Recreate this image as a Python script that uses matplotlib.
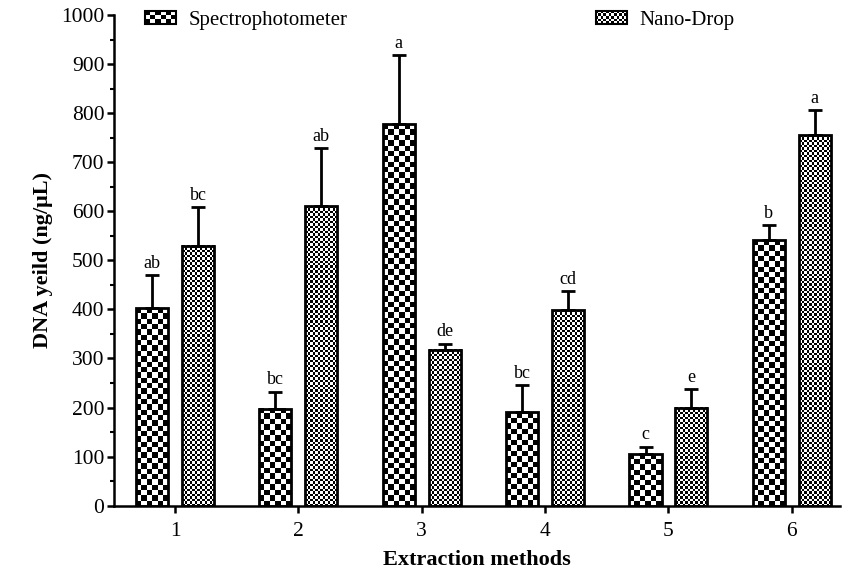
import numpy as np
import matplotlib
matplotlib.use("Agg")
import matplotlib.pyplot as plt
from matplotlib.patches import Rectangle
from matplotlib.legend_handler import HandlerBase

plt.rcParams['font.family'] = ['Liberation Serif', 'DejaVu Serif']

# data
methods = ['1', '2', '3', '4', '5', '6']
spectro = [403, 198, 778, 190, 105, 542]
spectro_err = [67, 34, 140, 55, 15, 30]
nano = [530, 610, 318, 398, 200, 756]
nano_err = [78, 118, 12, 39, 37, 50]
spectro_letters = ['ab', 'bc', 'a', 'bc', 'c', 'b']
nano_letters = ['bc', 'ab', 'de', 'cd', 'e', 'a']
series_names = ['Spectrophotometer', 'Nano-Drop']


def checker(nx, ny):
    ii, jj = np.meshgrid(np.arange(nx), np.arange(ny))
    return ((ii + jj) % 2).astype(float)


class CheckerHandler(HandlerBase):
    '''legend key drawn as a little checkerboard'''

    def __init__(self, nx, ny):
        super().__init__()
        self.nx = nx
        self.ny = ny

    def create_artists(self, legend, orig_handle, xdescent, ydescent,
                       width, height, fontsize, trans):
        arts = []
        cw = width / self.nx
        ch = height / self.ny
        for i in range(self.nx):
            for j in range(self.ny):
                if (i + j) % 2 == 0:
                    arts.append(Rectangle((-xdescent + i * cw, -ydescent + j * ch), cw, ch,
                                          facecolor='black', edgecolor='none',
                                          transform=trans))
        arts.append(Rectangle((-xdescent, -ydescent), width, height,
                              facecolor='none', edgecolor='black', lw=1.5,
                              transform=trans))
        return arts


fig = plt.figure(figsize=(8.45, 5.73), dpi=100)
ax = fig.add_axes([0.135, 0.1175, 0.859, 0.8563])

x = np.arange(1, len(methods) + 1)
width = 0.26
offset = 0.186

ax.set_xlim(0.506, 6.39)
ax.set_ylim(0, 1000)

bars1 = ax.bar(x - offset, spectro, width, facecolor='none', edgecolor='black',
               lw=2, zorder=3)
bars2 = ax.bar(x + offset, nano, width, facecolor='none', edgecolor='black',
               lw=2, zorder=3)

# pixels per data unit, used to keep checks square
ax_h_px = 0.8563 * 5.73 * 100
px_per_y = ax_h_px / 1000.0
ax_w_px = 0.859 * 8.45 * 100
px_per_x = ax_w_px / (6.39 - 0.506)

for bars, ncols in ((bars1, 6), (bars2, 13)):
    for b in bars:
        x0 = b.get_x()
        w = b.get_width()
        h = b.get_height()
        cell_px = w * px_per_x / ncols
        nrows = max(1, int(round(h * px_per_y / cell_px)))
        ax.imshow(checker(ncols, nrows), cmap='gray', vmin=0, vmax=1,
                  extent=(x0, x0 + w, 0, h), aspect='auto',
                  interpolation='nearest', zorder=2)

ax.set_xlim(0.506, 6.39)
ax.set_ylim(0, 1000)

# upward error bars only
ax.errorbar(x - offset, spectro, yerr=[np.zeros(6), spectro_err], fmt='none',
            ecolor='black', elinewidth=2, capsize=5, capthick=2, zorder=4)
ax.errorbar(x + offset, nano, yerr=[np.zeros(6), nano_err], fmt='none',
            ecolor='black', elinewidth=2, capsize=5, capthick=2, zorder=4)

for xi, v, e, t in zip(x - offset, spectro, spectro_err, spectro_letters):
    ax.annotate(t, (xi, v + e), xytext=(0, 2.5), textcoords='offset points',
                ha='center', va='bottom', fontsize=13)
for xi, v, e, t in zip(x + offset, nano, nano_err, nano_letters):
    ax.annotate(t, (xi, v + e), xytext=(0, 2.5), textcoords='offset points',
                ha='center', va='bottom', fontsize=13)

ax.set_xticks(x)
ax.set_xticklabels(methods)
ax.set_yticks(np.arange(0, 1001, 100))
ax.set_yticks(np.arange(50, 1000, 100), minor=True)
ax.tick_params(axis='both', which='major', labelsize=15.5, width=1.8, length=5,
               direction='out', pad=2)
ax.tick_params(axis='y', which='minor', width=1.5, length=3, direction='out')
ax.tick_params(axis='x', which='major', pad=7)

for side in ['top', 'right']:
    ax.spines[side].set_visible(False)
for side in ['left', 'bottom']:
    ax.spines[side].set_linewidth(1.8)

ax.set_xlabel('Extraction methods', fontsize=16, fontweight='bold', labelpad=6)
ax.set_ylabel('DNA yeild (ng/\u03bcL)', fontsize=16, fontweight='bold', labelpad=6)

h1 = Rectangle((0, 0), 1, 1)
h2 = Rectangle((0, 0), 1, 1)
ax.legend([h1, h2], series_names, ncol=2, frameon=False, fontsize=15,
          loc='center left', bbox_to_anchor=(0.1716, 0.965),
          bbox_transform=fig.transFigure, columnspacing=11.9,
          borderaxespad=0, borderpad=0,
          handlelength=1.5, handleheight=0.6, handletextpad=0.6,
          handler_map={h1: CheckerHandler(6, 3), h2: CheckerHandler(12, 5)})

fig.savefig('out.png', dpi=100)
